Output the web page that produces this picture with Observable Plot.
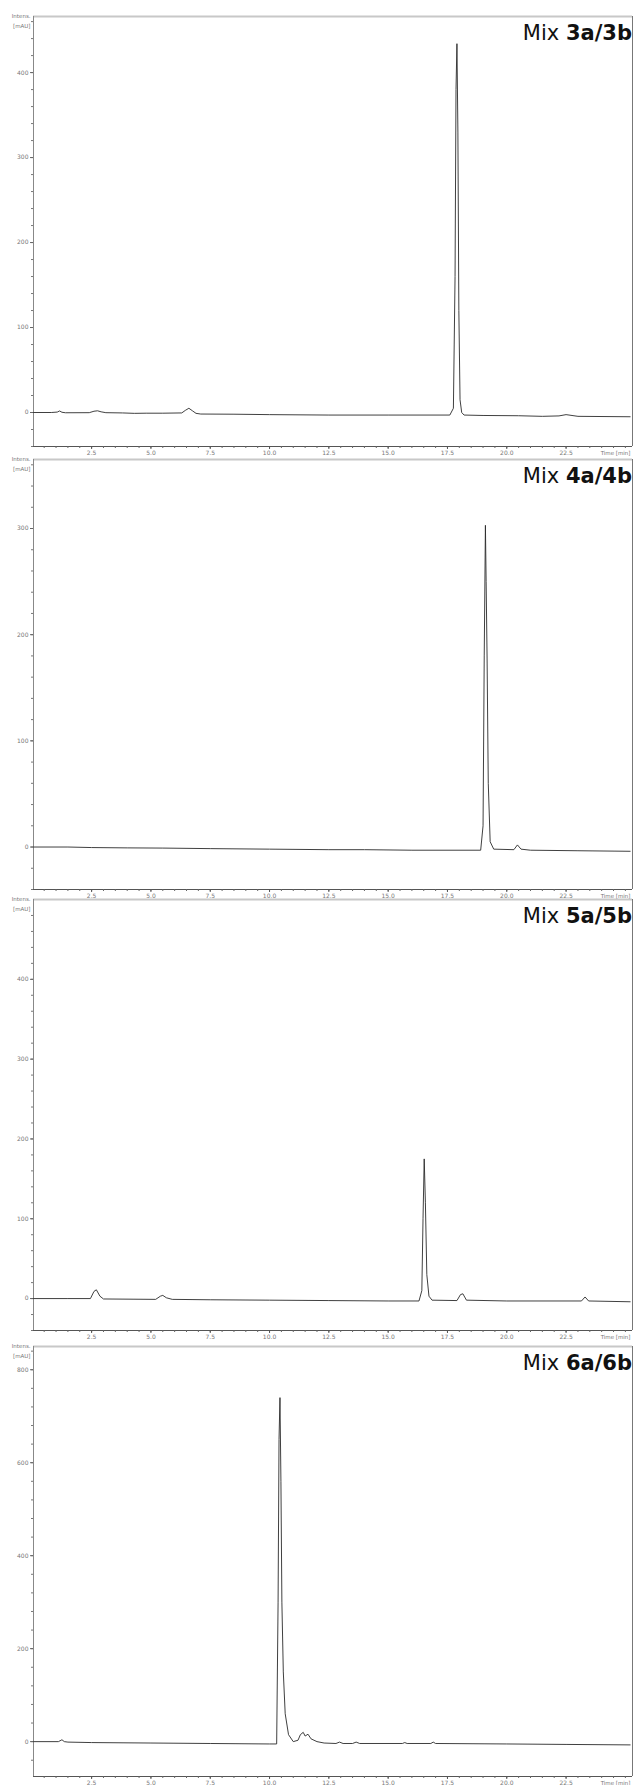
<!DOCTYPE html>
<html>
<head>
<meta charset="utf-8">
<script src="https://cdn.jsdelivr.net/npm/d3@7"></script>
<script src="https://cdn.jsdelivr.net/npm/@observablehq/plot@0.6"></script>
<style>
  html, body { margin: 0; padding: 0; background: #fff; }
  #wrap { position: relative; width: 637px; height: 1785px; overflow: hidden; }
  #wrap svg { position: absolute; left: 0; }
</style>
</head>
<body>
<div id="wrap"></div>
<script>
// ---- data (retention time in min, intensity in mAU) ----
const titles = ["3a/3b", "4a/4b", "5a/5b", "6a/6b"];

const t1 = [0.05, 0.8, 1.05, 1.15, 1.25, 1.4, 2.4, 2.6, 2.75, 2.9, 3.1, 3.8, 4.3, 4.8, 5.5, 6.3, 6.45, 6.6, 6.75, 6.9, 7.1, 8.5, 10, 12.5, 15, 17.6, 17.75, 17.82, 17.86, 17.9, 17.94, 17.98, 18.03, 18.1, 18.2, 19, 20.5, 21.5, 22.2, 22.5, 23, 25.2];
const v1 = [0, 0, 0.5, 1.8, 0.3, -0.3, -0.2, 1.5, 2, 0.8, -0.2, -0.5, -1, -0.8, -0.8, -0.5, 2.5, 5, 2, -1, -1.8, -2, -2.5, -3, -3, -3, 5, 160, 380, 434, 330, 120, 15, 0, -3, -3.5, -3.8, -4.5, -4, -2.5, -4.5, -5];

const t2 = [0.05, 1.5, 2.5, 4, 5.5, 7.5, 10, 12.5, 14, 16, 18.9, 19.0, 19.05, 19.1, 19.13, 19.17, 19.22, 19.3, 19.45, 20.3, 20.45, 20.6, 21, 23, 25.2];
const v2 = [0, 0, -0.5, -0.8, -1, -1.5, -2, -2.5, -2.5, -3, -3, 20, 180, 303, 250, 178, 60, 5, -2, -2.5, 2, -2, -3, -3.5, -4];

const t3 = [0.05, 1.5, 2.45, 2.6, 2.7, 2.85, 3.0, 5.2, 5.4, 5.5, 5.65, 5.9, 7.5, 10, 12.5, 15, 16.3, 16.42, 16.47, 16.52, 16.57, 16.63, 16.72, 16.85, 17.9, 18.05, 18.15, 18.3, 20, 23.15, 23.3, 23.45, 25.2];
const v3 = [0, 0, 0, 9, 11, 3, -0.5, -1, 3, 4, 1, -1, -1.5, -2, -2.5, -3, -3, 10, 100, 175, 120, 30, 3, -2, -2.5, 5, 6, -2, -3, -3, 2, -3, -4];

const t4 = [0.05, 1.1, 1.25, 1.35, 1.5, 2.5, 5, 7.5, 10.0, 10.3, 10.36, 10.4, 10.44, 10.48, 10.52, 10.58, 10.66, 10.8, 11.0, 11.2, 11.3, 11.42, 11.5, 11.62, 11.75, 12.0, 12.3, 12.8, 12.95, 13.1, 13.5, 13.65, 13.8, 15.6, 15.7, 15.8, 16.8, 16.9, 17.0, 20, 22.5, 25.2];
const v4 = [0, 0, 4, 0, -1, -2, -3, -4, -5, -5, 300, 650, 740, 560, 300, 150, 60, 15, 0, 3, 15, 20, 12, 16, 6, 0, -3, -4, -1, -4, -4, -1, -4, -4, -2, -4, -4, -1, -4, -5, -6, -7];

const yDomains = [[-40, 466], [-40, 365], [-40, 500], [-75, 850]];
const yMajor = [[0, 100, 200, 300, 400], [0, 100, 200, 300], [0, 100, 200, 300, 400], [0, 200, 400, 600, 800]];
const yMinorStep = [20, 20, 20, 40];
const xMajor = [2.5, 5.0, 7.5, 10.0, 12.5, 15.0, 17.5, 20.0, 22.5];
const xLabels = ["2.5", "5.0", "7.5", "10.0", "12.5", "15.0", "17.5", "20.0", "22.5"];
const xMinorStep = 0.5;

const frames = [[16, 446], [459, 889], [899, 1330], [1346, 1776]];

const series = [[t1, v1], [t2, v2], [t3, v3], [t4, v4]];

const wrap = document.getElementById("wrap");
const W = 637, ML = 33, MR = 5, MT = 16, MB = 12;
const xDomain = [0.05, 25.3];

series.forEach(([ts, vs], i) => {
  const data = ts.map((t, k) => ({t, v: vs[k]}));
  const [top, bottom] = frames[i];
  const H = bottom - top + MT + MB;
  const yd = yDomains[i];
  const minorY = d3.range(Math.ceil(yd[0] / yMinorStep[i]) * yMinorStep[i], yd[1], yMinorStep[i]);
  const minorX = d3.range(0.5, 25.01, xMinorStep);
  const svg = Plot.plot({
    width: W, height: H,
    marginLeft: ML, marginRight: MR, marginTop: MT, marginBottom: MB,
    style: {background: "transparent", fontFamily: "DejaVu Sans, sans-serif"},
    x: {domain: xDomain, axis: null},
    y: {domain: yd, axis: null},
    marks: [
      // top & right borders (gray)
      Plot.ruleY([yd[1]], {stroke: "#c8c8c8", strokeWidth: 2}),
      Plot.ruleX([xDomain[1]], {stroke: "#777", strokeWidth: 1}),
      // left & bottom axis lines
      Plot.ruleX([xDomain[0]], {stroke: "#888", strokeWidth: 1}),
      Plot.ruleY([yd[0]], {stroke: "#555", strokeWidth: 1}),
      // x ticks
      Plot.axisX(minorX, {anchor: "bottom", tickSize: 2, tickFormat: () => "", stroke: "#666"}),
      Plot.axisX(xMajor, {anchor: "bottom", tickSize: 3, tickPadding: 1, tickFormat: (d, k) => xLabels[k], fontSize: 6, fill: "#777", stroke: "#555"}),
      Plot.text([{x: xDomain[1], y: yd[0]}], {x: "x", y: "y", text: () => "Time [min]", dx: -2, dy: 7, fontSize: 5.5, fill: "#777", textAnchor: "end"}),
      // y ticks
      Plot.axisY(minorY, {anchor: "left", tickSize: 2, tickFormat: () => "", stroke: "#777"}),
      Plot.axisY(yMajor[i], {anchor: "left", tickSize: 3, tickPadding: 2, fontSize: 6, fill: "#777", stroke: "#666", tickFormat: d => String(d)}),
      Plot.text([{x: xDomain[0], y: yd[1]}], {x: "x", y: "y", text: () => "Intens.", dx: -3, dy: 0, fontSize: 5.5, fill: "#777", textAnchor: "end"}),
      Plot.text([{x: xDomain[0], y: yd[1]}], {x: "x", y: "y", text: () => "[mAU]", dx: -3, dy: 10, fontSize: 5.5, fill: "#777", textAnchor: "end"}),
      // trace
      Plot.line(data, {x: "t", y: "v", stroke: "#2a2a2a", strokeWidth: 0.9})
    ]
  });
  svg.style.top = (top - MT) + "px";
  // title with bold part
  const ns = "http://www.w3.org/2000/svg";
  const txt = document.createElementNS(ns, "text");
  txt.setAttribute("x", W - 5);
  txt.setAttribute("y", MT + 24);
  txt.setAttribute("text-anchor", "end");
  txt.setAttribute("font-family", "DejaVu Sans, Verdana, sans-serif");
  txt.setAttribute("font-size", "21");
  txt.setAttribute("fill", "#111");
  const s1 = document.createElementNS(ns, "tspan");
  s1.textContent = "Mix ";
  const s2 = document.createElementNS(ns, "tspan");
  s2.setAttribute("font-weight", "bold");
  s2.textContent = titles[i];
  txt.appendChild(s1); txt.appendChild(s2);
  svg.appendChild(txt);
  wrap.appendChild(svg);
});
</script>
</body>
</html>
